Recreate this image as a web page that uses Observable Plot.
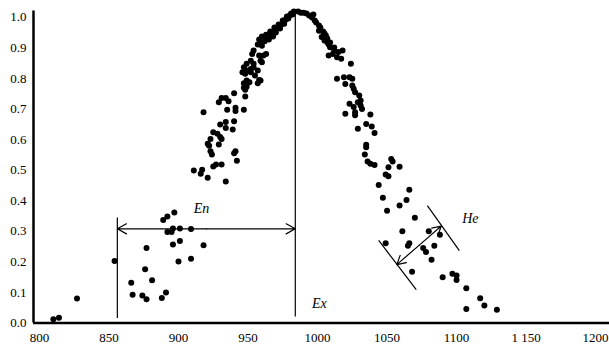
<!DOCTYPE html>
<html><head><meta charset="utf-8">
<script src="https://cdn.jsdelivr.net/npm/d3@7"></script>
<script src="https://cdn.jsdelivr.net/npm/@observablehq/plot@0.6"></script>
<style>
body{margin:0;background:#fff} svg{display:block}
svg g[aria-label*="axis"], svg g[aria-label*="axis"] text { font-size: 13px !important; font-family: 'Liberation Serif', 'DejaVu Serif', serif !important; fill: #000; }
</style>
</head><body><div id="chart"></div>
<script>
// Cloud drops (x value, membership degree)
const dropX = [
810,814,827,854,866,867,874,877,876,881,877,888,891,889,892,897,892,895,896,901,896,901,900,909,909,918,
911,916,917,921,925,927,931,934,942,940,941,923,924,921,922,929,923,925,928,930,931,934,939,930,934,940,
918,935,941,941,947,931,934,929,936,940,948,948,947,951,957,958,947,949,949,959,955,946,948,952,957,947,
949,952,954,952,949,954,959,960,954,953,958,961,963,
957,958,960,960,962,963,965,966,968,969,970,972,973,975,976,978,979,981,982,983,986,959,963,966,968,971,974,977,980,
988,990,992,994,996,998,999,1001,1002,1004,1003,1005,1007,1006,1008,1009,1012,1008,1011,1015,1018,1014,1017,1024,
1014,1019,1023,1025,1020,1025,1026,1027,1030,1031,1023,1026,1031,1032,1001,1005,1007,1009,1012,997,1029,
1020,1027,1027,1038,1035,1039,1029,1041,1035,1035,1034,1036,1038,1041,1053,1054,1059,1051,1049,1051,1044,
1066,1047,1064,1059,1050,1070,1061,1049,1066,1065,1080,1088,1076,1078,1084,1082,1068,1090,1097,1100,1100,
1107,1117,1120,1107,1129
];
const dropY = [
0.012,0.017,0.080,0.203,0.132,0.092,0.090,0.078,0.176,0.140,0.245,0.082,0.100,0.337,0.348,0.361,0.298,0.298,0.309,0.309,0.257,0.268,0.201,0.307,0.210,0.254,
0.499,0.488,0.501,0.475,0.512,0.518,0.518,0.463,0.531,0.555,0.562,0.562,0.551,0.586,0.580,0.584,0.602,0.624,0.619,0.608,0.602,0.638,0.633,0.649,0.657,0.660,
0.689,0.697,0.704,0.693,0.697,0.736,0.736,0.722,0.725,0.751,0.741,0.763,0.784,0.787,0.784,0.795,0.769,0.773,0.793,0.793,0.809,0.820,0.815,0.820,0.826,0.836,
0.826,0.831,0.836,0.858,0.848,0.848,0.858,0.853,0.891,0.880,0.875,0.875,0.880,
0.911,0.927,0.907,0.937,0.921,0.943,0.927,0.953,0.937,0.966,0.950,0.976,0.963,0.989,0.979,1.002,0.996,1.012,1.009,1.019,1.019,0.917,0.930,0.940,0.950,0.963,0.976,0.992,1.006,
1.015,1.015,1.012,1.006,0.999,0.989,0.983,0.973,0.966,0.953,0.935,0.924,0.918,0.940,0.911,0.902,0.891,0.875,0.880,0.886,0.891,0.869,0.864,0.848,
0.799,0.804,0.804,0.799,0.782,0.777,0.766,0.755,0.744,0.728,0.717,0.706,0.711,0.700,0.956,0.947,0.930,0.917,0.901,1.009,0.722,
0.684,0.689,0.679,0.682,0.651,0.643,0.635,0.621,0.583,0.575,0.551,0.528,0.521,0.517,0.536,0.528,0.511,0.509,0.486,0.480,0.451,
0.436,0.410,0.402,0.384,0.367,0.344,0.300,0.261,0.261,0.253,0.300,0.289,0.245,0.232,0.253,0.207,0.168,0.150,0.161,0.155,0.141,
0.114,0.081,0.057,0.046,0.043
];

const xTicks = [800, 850, 900, 950, 1000, 1050, 1100, 1150, 1200];
const xTickLabels = ["800", "850", "900", "950", "1000", "1050", "1100", "1 150", "1200"];
const yTicks = [0, 0.1, 0.2, 0.3, 0.4, 0.5, 0.6, 0.7, 0.8, 0.9, 1.0];
const yTickLabels = ["0.0", "0.1", "0.2", "0.3", "0.4", "0.5", "0.6", "0.7", "0.8", "0.9", "1.0"];

// Annotation values (Ex, En, He)
const exValue = 984;
const enLeft = 856;
const exLine = [{x: exValue, y1: 0.02, y2: 1.024}];
const enLine = [{x: enLeft, y1: 0.015, y2: 0.343}];
const enArrow = {x1: enLeft, x2: exValue, y: 0.308};
const heLines = [
  {x1: 1079, y1: 0.384, x2: 1102, y2: 0.237},
  {x1: 1044, y1: 0.270, x2: 1071, y2: 0.109}
];
const heArrow = {x1: 1089, y1: 0.317, x2: 1057, y2: 0.191};
const labels = [
  {text: "En", x: 911, y: 0.375},
  {text: "Ex", x: 996, y: 0.064},
  {text: "He", x: 1104, y: 0.341}
];

const xMin = 795.7, xMax = 1210, yMax = 1.02;
const drops = dropX.map((x, i) => ({x, y: dropY[i]}));

// double arrows drawn as two arrows from the midpoint
function doubleArrow(a) {
  const mx = (a.x1 + a.x2) / 2, my = (a.y1 + a.y2) / 2;
  return [
    {x1: mx, y1: my, x2: a.x1, y2: a.y1},
    {x1: mx, y1: my, x2: a.x2, y2: a.y2}
  ];
}
const arrows = [
  ...doubleArrow({x1: enArrow.x1, y1: enArrow.y, x2: enArrow.x2, y2: enArrow.y}),
  ...doubleArrow(heArrow)
];

const chart = Plot.plot({
  width: 609, height: 348,
  marginLeft: 33, marginRight: 0, marginTop: 10.6, marginBottom: 25.5,
  style: {fontFamily: "'Liberation Serif', 'DejaVu Serif', serif", fontSize: "13px", color: "#000", background: "#fff"},
  x: {domain: [xMin, xMax], ticks: xTicks, tickFormat: d => xTickLabels[xTicks.indexOf(d)], tickSize: 0, tickPadding: 10, label: null},
  y: {domain: [0, yMax], ticks: yTicks, tickFormat: d => yTickLabels[yTicks.findIndex(t => Math.abs(t - d) < 1e-9)], tickSize: 0, tickPadding: 7, label: null},
  marks: [
    Plot.ruleX(exLine, {x: "x", y1: "y1", y2: "y2", stroke: "#000", strokeWidth: 1.2}),
    Plot.ruleX(enLine, {x: "x", y1: "y1", y2: "y2", stroke: "#000", strokeWidth: 1.2}),
    Plot.link(heLines, {x1: "x1", y1: "y1", x2: "x2", y2: "y2", stroke: "#000", strokeWidth: 1.2}),
    Plot.arrow(arrows, {x1: "x1", y1: "y1", x2: "x2", y2: "y2", stroke: "#000", strokeWidth: 1.2, headLength: 13, headAngle: 58}),
    Plot.dot(drops, {x: "x", y: "y", r: 3, fill: "#000", stroke: "none"}),
    Plot.text(labels, {x: "x", y: "y", text: "text", textAnchor: "start", fontStyle: "italic", fontSize: 14, fontFamily: "'Liberation Serif', serif", fill: "#000"}),
    Plot.ruleY([0], {stroke: "#000", strokeWidth: 2.5}),
    Plot.ruleX([xMin], {y1: 0, y2: yMax, stroke: "#000", strokeWidth: 2.5})
  ]
});
document.getElementById("chart").appendChild(chart);
</script>
</body></html>
